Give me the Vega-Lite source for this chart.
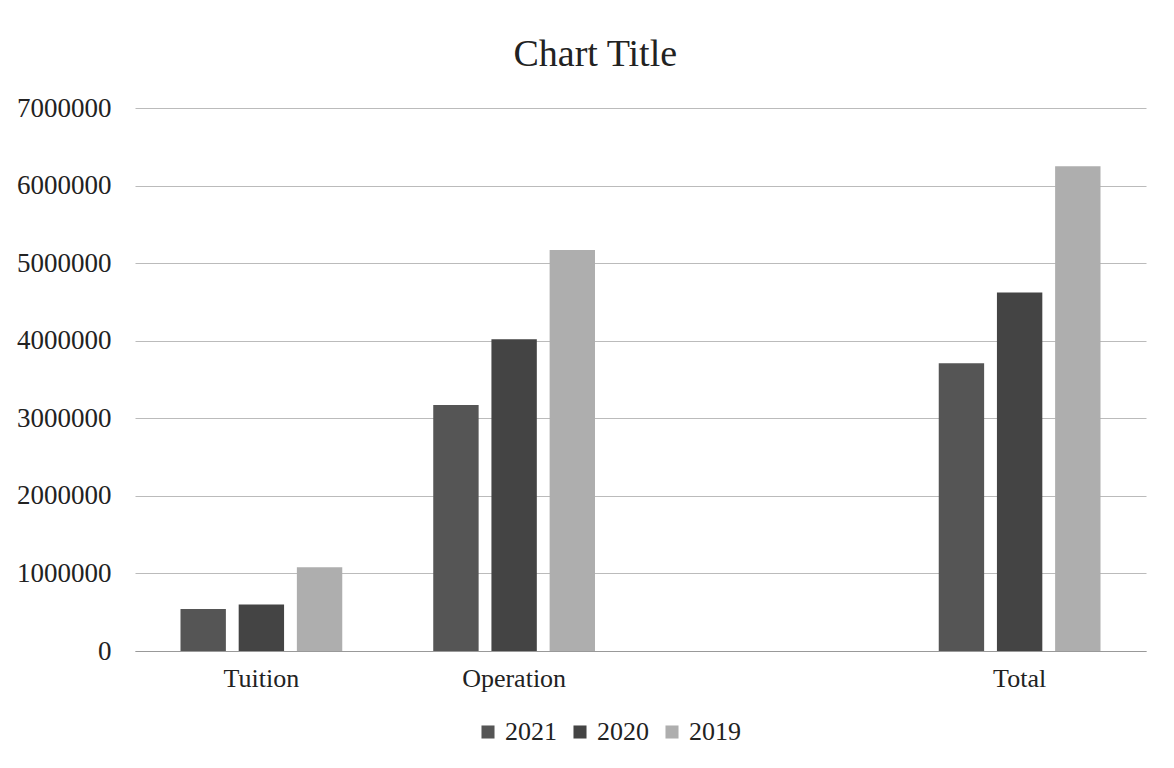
{
  "$schema": "https://vega.github.io/schema/vega-lite/v6.json",
  "autosize": {"type": "fit", "contains": "padding"},
  "width": 1174,
  "height": 768,
  "padding": {"left": 16, "top": 36, "right": 28, "bottom": 77},
  "background": "white",
  "title": {"text": "Chart Title", "font": "Liberation Serif", "fontSize": 38, "fontWeight": "normal", "color": "#222222", "offset": 20, "anchor": "middle", "frame": "bounds", "dx": 14},
  "data": {
    "values": [
      {"category": "Tuition", "year": "2021", "value": 540000},
      {"category": "Tuition", "year": "2020", "value": 600000},
      {"category": "Tuition", "year": "2019", "value": 1080000},
      {"category": "Operation", "year": "2021", "value": 3170000},
      {"category": "Operation", "year": "2020", "value": 4020000},
      {"category": "Operation", "year": "2019", "value": 5170000},
      {"category": "Total", "year": "2021", "value": 3710000},
      {"category": "Total", "year": "2020", "value": 4620000},
      {"category": "Total", "year": "2019", "value": 6250000}
    ]
  },
  "mark": {"type": "bar"},
  "encoding": {
    "x": {
      "field": "category",
      "type": "nominal",
      "scale": {"domain": ["Tuition", "Operation", " ", "Total"], "paddingInner": 0.36, "paddingOuter": 0.18},
      "axis": {"title": null, "labelAngle": 0, "ticks": false, "domainColor": "#999999", "labelFont": "Liberation Serif", "labelFontSize": 26, "labelColor": "#222222", "labelPadding": 14}
    },
    "xOffset": {
      "field": "year",
      "type": "nominal",
      "sort": ["2021", "2020", "2019"],
      "scale": {"paddingInner": 0.22}
    },
    "y": {
      "field": "value",
      "type": "quantitative",
      "scale": {"domain": [0, 7000000]},
      "axis": {"title": null, "values": [0, 1000000, 2000000, 3000000, 4000000, 5000000, 6000000, 7000000], "format": "d", "domain": false, "ticks": false, "gridColor": "#bbbbbb", "labelFont": "Liberation Serif", "labelFontSize": 27, "labelColor": "#222222", "labelPadding": 24}
    },
    "color": {
      "field": "year",
      "type": "nominal",
      "sort": ["2021", "2020", "2019"],
      "scale": {"domain": ["2021", "2020", "2019"], "range": ["#555555", "#444444", "#aeaeae"]},
      "legend": {"title": null, "orient": "none", "legendX": 340, "legendY": 611, "direction": "horizontal", "symbolType": "square", "symbolSize": 170, "labelFont": "Liberation Serif", "labelFontSize": 26, "labelColor": "#222222", "columnPadding": 10, "labelOffset": 4}
    }
  },
  "config": {"view": {"stroke": null}}
}
